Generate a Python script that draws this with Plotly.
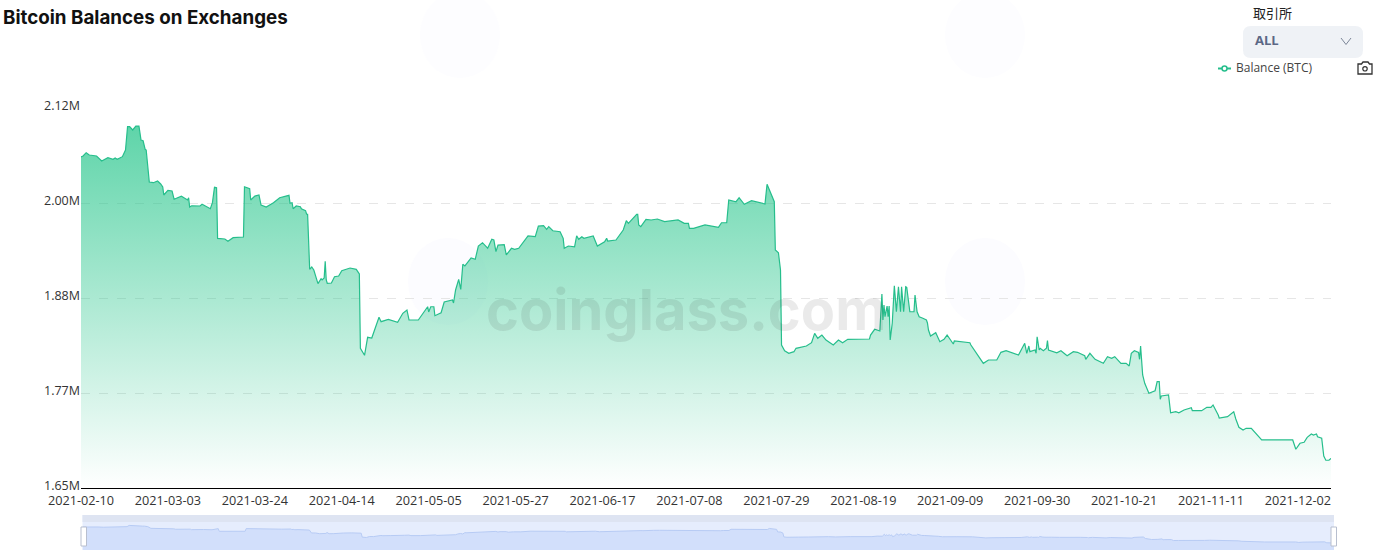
import plotly.graph_objects as go

# sample number on the chart's category axis (one sample every six hours)
sample_no = [0,2,5,8,15,20,26,31,33,35,40,43,45,47,50,53,56,58,60,62,63,66,70,74,77,79,80,84,88,90,97,103,104,105,107,115,117,125,127,129,131,132,139,142,147,157,158,163,164,168,172,174,179,186,192,201,202,204,205,208,212,213,217,218,219,221,223,225,229,232,233,235,236,237,238,242,245,249,252,260,266,269,270,271,274,277,281,288,290,297,301,306,311,315,317,326,335,336,338,341,342,348,351,359,360,362,365,367,369,371,377,381,384,388,393,397,399,401,403,409,411,416,419,423,432,439,442,447,450,452,456,463,466,467,471,477,479,481,484,486,495,499,506,508,509,517,524,527,529,535,537,538,539,541,546,551,557,564,577,583,587,588,592,603,616,619,624,626,633,636,641,648,658,661,663,666,669,670,671,674,676,677,680,684,689,691,701,706,709,712,716,720,727,732,736,741,762,763,767,772,774,775,776,777,779,780,781,782,784,786,788,790,792,793,795,797,798,801,805,806,808,810,813,817,818,819,821,826,830,834,837,843,844,859,860,867,872,877,885,889,894,906,912,914,916,917,922,923,924,926,927,930,933,934,935,943,947,953,959,963,970,971,975,980,984,988,992,996,999,1005,1010,1013,1015,1018,1022,1023,1024,1026,1028,1032,1038,1040,1042,1043,1044,1051,1053,1058,1061,1066,1073,1074,1083,1088,1092,1094,1099,1100,1108,1114,1116,1119,1123,1126,1131,1141,1171,1174,1178,1182,1185,1189,1191,1194,1195,1199,1201,1203,1206,1208]

# balance in thousand BTC
balance_k = [2059.4,2060.6,2064.7,2061.9,2060.6,2054.4,2058.5,2056.5,2058.1,2056.5,2059.8,2068,2096.9,2096.9,2092.8,2097.7,2097.7,2080.4,2079.5,2068.9,2068,2028.5,2027.6,2029.7,2026,2022.3,2012.4,2018.2,2017.3,2007.1,2010.8,2006.2,2009,1997.5,1999.1,1998.8,2000.9,1995.4,2002.9,2021.9,2021.4,1958.8,1958,1955.1,1959.6,1960.4,2022.6,2020.2,2006.2,2011.1,2012.4,2000,1997.5,2002.9,2009,2012,2002.1,2002.9,1995.4,1998.8,1997.9,1995.4,1993,1988.9,1988.5,1920.5,1923.3,1919.6,1902.7,1908.9,1907.3,1909.7,1930.4,1907.3,1903.2,1903.5,1911.3,1912.2,1918.8,1922.1,1920.5,1914.7,1822.8,1820.7,1814.1,1836.4,1835.5,1861.1,1855.7,1858.6,1857.2,1854.9,1866.1,1870.2,1857.8,1857.8,1874.2,1867.7,1874.2,1874.2,1863.1,1866.8,1880,1882.5,1878.8,1894.9,1908.1,1895.7,1926.7,1924.6,1934.5,1932.9,1949.3,1953.4,1946.5,1957.6,1956.7,1942.3,1950.5,1950.9,1938.2,1946.5,1945.2,1946.5,1961.7,1960.8,1974,1974.4,1970,1973.2,1968.2,1967,1958.8,1946.5,1949.3,1948.4,1962,1957.6,1960.8,1958.8,1961.7,1949.3,1954.6,1958.8,1955.5,1956.7,1969.1,1980.6,1977.4,1985.5,1988.5,1988.5,1975.3,1973.2,1982.3,1981.5,1982.7,1979.4,1981.5,1977.4,1977.4,1971.2,1971.2,1975.3,1972.4,1978.1,1978.1,2006.2,2004.1,2009,2000.9,2005.3,2002.9,2001.3,2025.6,2016.5,2008.3,2004.1,1944.4,1941,1919.6,1826.9,1819.8,1816.6,1818.6,1822.8,1825.6,1829.7,1841.3,1835.1,1839.2,1833,1826.9,1833,1829.7,1833.9,1834.3,1839.2,1846.3,1844.2,1889.9,1857.8,1876.3,1861.9,1875.1,1861.9,1875.1,1833,1854.1,1900.2,1868,1899,1868,1899,1868,1899,1898.2,1868,1868,1888.7,1868,1861.9,1860.3,1857.8,1854.1,1845.4,1838,1842.1,1830.9,1833.9,1839.2,1828.1,1831.8,1829.7,1826.9,1814.5,1804.2,1808.3,1808.3,1817.8,1819.8,1814.5,1829,1816.6,1825.6,1818.6,1820.7,1816.6,1837.1,1820.7,1822.8,1819.8,1822.8,1832.2,1820.7,1817.3,1819.8,1813.6,1818.6,1817.8,1813.6,1809.2,1816.6,1809.2,1807.1,1804.2,1812.4,1810.4,1812.4,1804.2,1804.2,1800.9,1816.6,1819.8,1817.8,1809.2,1825.6,1789.8,1779.5,1767.1,1770.3,1781.5,1781.5,1759.7,1763.8,1765,1743.1,1744.4,1743.1,1746.5,1749.3,1745.6,1745.6,1749.8,1749.8,1752.7,1740.3,1736.6,1738.2,1744.4,1735.3,1725.1,1721.7,1723.8,1723.8,1709.4,1709.4,1697.9,1705.3,1706.5,1712.7,1716.8,1715.5,1716.8,1713.4,1711.5,1689.6,1684.3,1684.3,1686.7]

date_labels = ["2021-02-10","2021-03-03","2021-03-24","2021-04-14","2021-05-05","2021-05-27","2021-06-17","2021-07-08","2021-07-29","2021-08-19","2021-09-09","2021-09-30","2021-10-21","2021-11-11","2021-12-02"]
date_ticks = [0,84,168,252,336,420,504,588,672,756,840,924,1008,1092,1176]
value_ticks = [1650,1767.5,1885,2002.5,2120]
value_labels = ["1.65M","1.77M","1.88M","2.00M","2.12M"]

W, H = 1380, 556
L, R = 81, 40
PW = W - L - R
def px(x): return (x - L) / PW
def py(y): return (H - y) / H

FONT = "Open Sans, sans-serif"
GREEN = "rgb(38,190,140)"

fig = go.Figure()
fig.add_trace(go.Scatter(
    x=sample_no, y=balance_k, mode="lines", name="Balance (BTC)", showlegend=False,
    line=dict(color=GREEN, width=1.2), fill="tozeroy",
    fillgradient=dict(type="vertical", start=2100, stop=1650,
                      colorscale=[[0, "rgba(40,198,140,0.75)"], [1, "rgba(40,198,140,0)"]]),
    xaxis="x", yaxis="y"))
fig.add_trace(go.Scatter(
    x=sample_no, y=balance_k, mode="lines", showlegend=False,
    line=dict(color="#b7cbf4", width=1), fill="tozeroy", fillcolor="#d2dffb",
    xaxis="x2", yaxis="y2", hoverinfo="skip"))

shapes = [
    # faint background logo marks
    dict(type="circle", xref="paper", yref="paper", x0=px(420), x1=px(500), y0=py(78), y1=py(-8),
         fillcolor="#fdfdff", line_width=0, layer="below"),
    dict(type="circle", xref="paper", yref="paper", x0=px(945), x1=px(1025), y0=py(78), y1=py(-8),
         fillcolor="#fdfdff", line_width=0, layer="below"),
    dict(type="circle", xref="paper", yref="paper", x0=px(945), x1=px(1025), y0=py(325), y1=py(238),
         fillcolor="#fcfcff", line_width=0, layer="below"),
    dict(type="circle", xref="paper", yref="paper", x0=px(408), x1=px(488), y0=py(325), y1=py(238),
         fillcolor="#fcfcff", line_width=0, layer="below"),
    dict(type="rect", xref="paper", yref="paper", x0=px(82.5), x1=px(1334), y0=py(550), y1=py(515),
         fillcolor="#e6edfd", line_width=0, layer="below"),
    dict(type="rect", xref="paper", yref="paper", x0=px(82.5), x1=px(1334), y0=py(522), y1=py(515),
         fillcolor="#dee4f2", line_width=0, layer="below"),
    dict(type="rect", xref="paper", yref="paper", x0=px(81), x1=px(86.5), y0=py(546), y1=py(527),
         fillcolor="white", line=dict(color="#b8bfcf", width=1)),
    dict(type="rect", xref="paper", yref="paper", x0=px(1331), x1=px(1336.5), y0=py(546), y1=py(527),
         fillcolor="white", line=dict(color="#b8bfcf", width=1)),
    # selector box
    dict(type="path", xref="paper", yref="paper", fillcolor="#eff2f6", line_width=0,
         path=f"M {px(1251)} {py(26)} L {px(1355)} {py(26)} Q {px(1363)} {py(26)} {px(1363)} {py(34)} "
              f"L {px(1363)} {py(50)} Q {px(1363)} {py(58)} {px(1355)} {py(58)} L {px(1251)} {py(58)} "
              f"Q {px(1243)} {py(58)} {px(1243)} {py(50)} L {px(1243)} {py(34)} Q {px(1243)} {py(26)} {px(1251)} {py(26)} Z"),
    dict(type="path", xref="paper", yref="paper", line=dict(color="#7c8698", width=1),
         path=f"M {px(1341)} {py(38)} L {px(1346)} {py(44.5)} L {px(1351)} {py(38)}"),
    # legend sample
    dict(type="line", xref="paper", yref="paper", x0=px(1218), x1=px(1231), y0=py(68.5), y1=py(68.5),
         line=dict(color=GREEN, width=2)),
    dict(type="circle", xref="paper", yref="paper", x0=px(1222), x1=px(1227), y0=py(71), y1=py(66),
         fillcolor="white", line=dict(color=GREEN, width=1.5)),
    # camera icon
    dict(type="path", xref="paper", yref="paper", line=dict(color="#333333", width=1.3),
         path=f"M {px(1358)} {py(64)} L {px(1361.5)} {py(64)} L {px(1363)} {py(62)} L {px(1368)} {py(62)} "
              f"L {px(1369.5)} {py(64)} L {px(1372)} {py(64)} L {px(1372)} {py(74)} L {px(1358)} {py(74)} Z"),
    dict(type="circle", xref="paper", yref="paper", x0=px(1362.8), x1=px(1367.2), y0=py(71), y1=py(66.6),
         line=dict(color="#333333", width=1.2)),
]

annotations = [
    dict(text="coinglass.com", x=px(686), y=py(310), xref="paper", yref="paper", showarrow=False, yanchor="middle",
         font=dict(family="Inter, sans-serif", size=56, color="rgba(50,50,50,0.10)", weight=700)),
    dict(text="Bitcoin Balances on Exchanges", x=px(1), y=py(17), xref="paper", yref="paper", showarrow=False,
         xanchor="left", yanchor="middle", font=dict(family="Inter, sans-serif", size=18.8, color="#111111", weight=700)),
    dict(text="取引所", x=px(1251), y=py(12.5), xref="paper", yref="paper", showarrow=False, xanchor="left", yanchor="middle",
         font=dict(family="Noto Sans CJK JP", size=13, color="#222222")),
    dict(text="ALL", x=px(1253), y=py(40.5), xref="paper", yref="paper", showarrow=False, xanchor="left", yanchor="middle",
         font=dict(family=FONT, size=13, color="#5b6785", weight=700)),
    dict(text="Balance (BTC)", x=px(1234), y=py(67.5), xref="paper", yref="paper", showarrow=False, xanchor="left", yanchor="middle",
         font=dict(family=FONT, size=12, color="#444444")),
]

fig.update_layout(
    width=W, height=H, autosize=False,
    margin=dict(l=L, r=R, t=0, b=0, pad=0),
    paper_bgcolor="white", plot_bgcolor="rgba(0,0,0,0)",
    showlegend=False, shapes=shapes, annotations=annotations,
    xaxis=dict(domain=[0, px(1331)], range=[0, 1208], tickmode="array", tickvals=date_ticks, ticktext=date_labels,
               showgrid=False, zeroline=False, showline=True, linecolor="#000000", linewidth=1, ticks="", automargin=False,
               tickfont=dict(family=FONT, size=12.7, color="#333333"), tickangle=0, anchor="y", ticklabelstandoff=1),
    yaxis=dict(domain=[py(488), py(108)], range=[1650, 2120], tickmode="array", tickvals=value_ticks, ticktext=value_labels,
               showgrid=True, gridcolor="#e6e6e6", griddash="dash", gridwidth=1, zeroline=False, showline=False, ticks="", automargin=False,
               tickfont=dict(family=FONT, size=12.5, color="#333333"), anchor="x", ticklabelshift=-2),
    xaxis2=dict(domain=[px(82.5), px(1334)], range=[0, 1208], visible=False, anchor="y2", automargin=False),
    yaxis2=dict(domain=[py(550), py(522)], range=[1521, 2177], visible=False, anchor="x2", automargin=False),
)

fig.write_html("out.html", config={"displayModeBar": False},
               post_script="document.body.style.margin='0';document.body.style.overflow='hidden';")
